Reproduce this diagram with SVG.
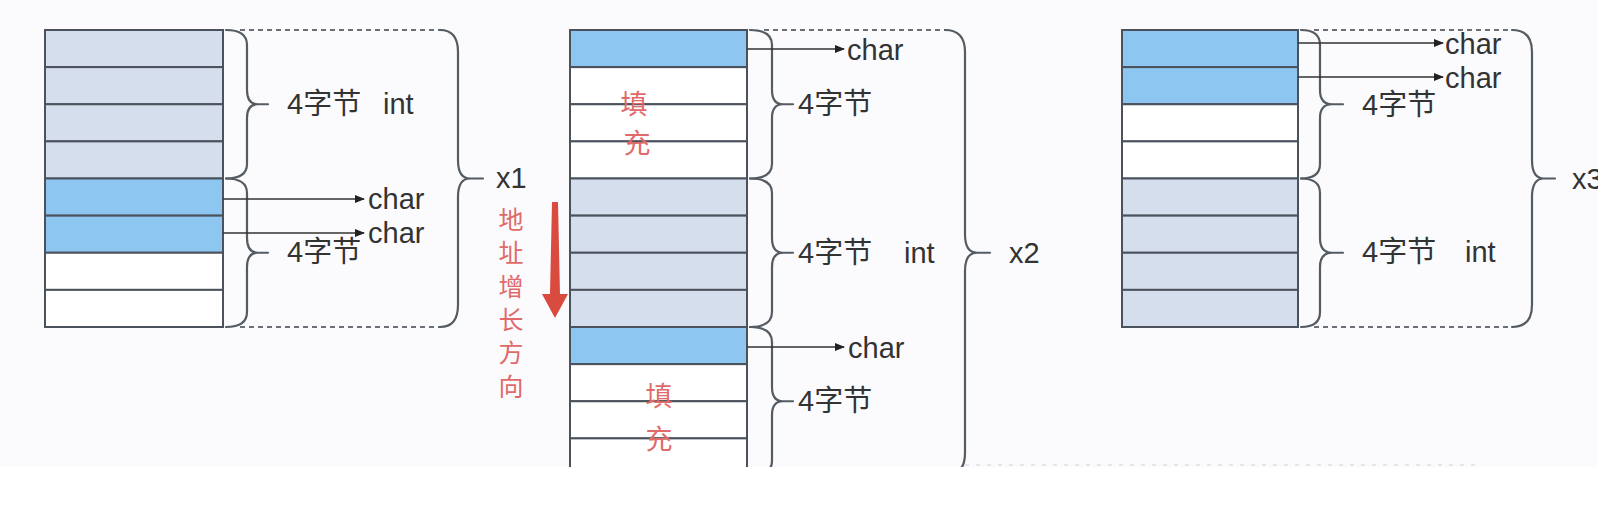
<svg xmlns="http://www.w3.org/2000/svg" width="1598" height="524" viewBox="0 0 1598 524">
<defs>
<style>
.cell{stroke:#4b525c;stroke-width:2}
.blue{fill:#8dc7f1}
.gray{fill:#d4deec}
.white{fill:#ffffff}
.brace{fill:none;stroke:#555b63;stroke-width:2.2;stroke-linejoin:round;stroke-linecap:round}
.dash{fill:none;stroke:#6b7078;stroke-width:1.8;stroke-dasharray:5 4}
.arrow{stroke:#333;stroke-width:1.6;marker-end:url(#ah)}
.t{font-family:"Liberation Sans","Noto Sans CJK SC",sans-serif;font-size:29px;fill:#333}
.red{font-family:"Noto Sans CJK SC",sans-serif;font-size:27px;fill:#e06a6a;text-anchor:middle}
.vred{font-family:"Noto Sans CJK SC",sans-serif;font-size:25px;fill:#e06a6a;text-anchor:middle}
</style>
<marker id="ah" markerWidth="10" markerHeight="8" refX="9" refY="4" orient="auto" markerUnits="userSpaceOnUse"><path d="M0,0 L10,4 L0,8 z" fill="#222"/></marker>
<clipPath id="cut"><rect x="0" y="0" width="1598" height="467"/></clipPath>
</defs>
<rect x="0" y="0" width="1598" height="524" fill="#ffffff"/>
<rect x="0" y="0" width="1598" height="467" fill="#fbfbfd"/>
<g clip-path="url(#cut)">
<g id="struct1">
<rect class="cell gray" x="45" y="30" width="178" height="37.13"/>
<rect class="cell gray" x="45" y="67.13" width="178" height="37.12"/>
<rect class="cell gray" x="45" y="104.25" width="178" height="37.13"/>
<rect class="cell gray" x="45" y="141.38" width="178" height="37.12"/>
<rect class="cell blue" x="45" y="178.5" width="178" height="37.13"/>
<rect class="cell blue" x="45" y="215.63" width="178" height="37.12"/>
<rect class="cell white" x="45" y="252.75" width="178" height="37.13"/>
<rect class="cell white" x="45" y="289.88" width="178" height="37.12"/>
<path class="brace" d="M226,30 Q247,30 247,45 L247,90 Q247,104.25 258,104.25 L268,104.25 M258,104.25 Q247,104.25 247,118 L247,164 Q247,178.5 226,178.5"/>
<path class="brace" d="M226,178.5 Q247,178.5 247,193 L247,238 Q247,252.75 258,252.75 L268,252.75 M258,252.75 Q247,252.75 247,267 L247,312 Q247,327 226,327"/>
<path class="dash" d="M240,30 L440,30 M240,327 L440,327"/>
<path class="brace" d="M440,30 Q458,30 458,52 L458,160 Q458,178.5 470,178.5 L483,178.5 M470,178.5 Q458,178.5 458,197 L458,305 Q458,327 440,327"/>
<text class="t" x="287" y="114">4字节</text>
<text class="t" x="383" y="114">int</text>
<text class="t" x="287" y="262">4字节</text>
<text class="t" x="368" y="209">char</text>
<text class="t" x="368" y="243">char</text>
<text class="t" x="496" y="188">x1</text>
</g>
<g id="direction">
<text class="vred"><tspan x="511" y="229">地</tspan><tspan x="511" y="262">址</tspan><tspan x="511" y="296">增</tspan><tspan x="511" y="329">长</tspan><tspan x="511" y="362">方</tspan><tspan x="511" y="396">向</tspan></text>
<polygon points="552,202 558,202 560,294 568,294 555,318 542,294 550,294" fill="#d94a3f"/>
</g>
<g id="struct2">
<rect class="cell blue" x="570" y="30" width="177" height="37.13"/>
<rect class="cell white" x="570" y="67.13" width="177" height="37.12"/>
<rect class="cell white" x="570" y="104.25" width="177" height="37.13"/>
<rect class="cell white" x="570" y="141.38" width="177" height="37.12"/>
<rect class="cell gray" x="570" y="178.5" width="177" height="37.13"/>
<rect class="cell gray" x="570" y="215.63" width="177" height="37.12"/>
<rect class="cell gray" x="570" y="252.75" width="177" height="37.13"/>
<rect class="cell gray" x="570" y="289.88" width="177" height="37.12"/>
<rect class="cell blue" x="570" y="327" width="177" height="37.13"/>
<rect class="cell white" x="570" y="364.13" width="177" height="37.12"/>
<rect class="cell white" x="570" y="401.25" width="177" height="37.13"/>
<rect class="cell white" x="570" y="438.38" width="177" height="37.12"/>
<text class="red" x="634" y="114">填</text>
<text class="red" x="637" y="153">充</text>
<text class="red" x="659" y="406">填</text>
<text class="red" x="659" y="449">充</text>
<path class="brace" d="M750,30 Q772,30 772,45 L772,90 Q772,104.25 783,104.25 L793,104.25 M783,104.25 Q772,104.25 772,118 L772,164 Q772,178.5 750,178.5"/>
<path class="brace" d="M750,178.5 Q772,178.5 772,193 L772,238 Q772,252.75 783,252.75 L793,252.75 M783,252.75 Q772,252.75 772,267 L772,312 Q772,327 750,327"/>
<path class="brace" d="M750,327 Q772,327 772,342 L772,387 Q772,401.25 783,401.25 L793,401.25 M783,401.25 Q772,401.25 772,415 L772,461 Q772,475.5 750,475.5"/>
<path class="dash" d="M764,30 L945,30"/>
<path class="brace" d="M945,30 Q965,30 965,52 L965,234 Q965,252.75 977,252.75 L990,252.75 M977,252.75 Q965,252.75 965,271 L965,453 Q965,475.5 945,475.5"/>
<path d="M965,465 L1480,465" fill="none" stroke="#dedee3" stroke-width="1.5" stroke-dasharray="4 7"/>
<text class="t" x="798" y="114">4字节</text>
<text class="t" x="798" y="263">4字节</text>
<text class="t" x="904" y="263">int</text>
<text class="t" x="798" y="411">4字节</text>
<text class="t" x="847" y="60">char</text>
<text class="t" x="848" y="358">char</text>
<text class="t" x="1009" y="263">x2</text>
</g>
<g id="struct3">
<rect class="cell blue" x="1122" y="30" width="176" height="37.13"/>
<rect class="cell blue" x="1122" y="67.13" width="176" height="37.12"/>
<rect class="cell white" x="1122" y="104.25" width="176" height="37.13"/>
<rect class="cell white" x="1122" y="141.38" width="176" height="37.12"/>
<rect class="cell gray" x="1122" y="178.5" width="176" height="37.13"/>
<rect class="cell gray" x="1122" y="215.63" width="176" height="37.12"/>
<rect class="cell gray" x="1122" y="252.75" width="176" height="37.13"/>
<rect class="cell gray" x="1122" y="289.88" width="176" height="37.12"/>
<path class="brace" d="M1301,30 Q1320,30 1320,45 L1320,90 Q1320,104.25 1332,104.25 L1343,104.25 M1332,104.25 Q1320,104.25 1320,118 L1320,164 Q1320,178.5 1301,178.5"/>
<path class="brace" d="M1301,178.5 Q1320,178.5 1320,193 L1320,238 Q1320,252.75 1332,252.75 L1343,252.75 M1332,252.75 Q1320,252.75 1320,267 L1320,312 Q1320,327 1301,327"/>
<path class="dash" d="M1314,30 L1512,30 M1314,327 L1512,327"/>
<path class="brace" d="M1512,30 Q1532,30 1532,52 L1532,160 Q1532,178.5 1544,178.5 L1555,178.5 M1544,178.5 Q1532,178.5 1532,197 L1532,305 Q1532,327 1512,327"/>
<text class="t" x="1362" y="115">4字节</text>
<text class="t" x="1362" y="262">4字节</text>
<text class="t" x="1465" y="262">int</text>
<text class="t" x="1445" y="54">char</text>
<text class="t" x="1445" y="88">char</text>
<text class="t" x="1572" y="189">x3</text>
</g>
<g id="connectors">
<line class="arrow" x1="223" y1="199" x2="364" y2="199"/>
<line class="arrow" x1="223" y1="233" x2="364" y2="233"/>
<line class="arrow" x1="747" y1="49" x2="844" y2="49"/>
<line class="arrow" x1="747" y1="347" x2="844" y2="347"/>
<line class="arrow" x1="1298" y1="43" x2="1443" y2="43"/>
<line class="arrow" x1="1298" y1="77" x2="1443" y2="77"/>
</g>
</g>
</svg>
